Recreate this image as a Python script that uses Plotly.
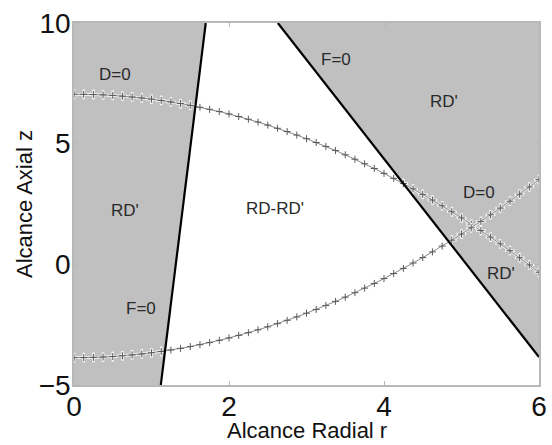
import plotly.graph_objects as go

# ---- data ----
r_vals = [0.000, 0.125, 0.250, 0.375, 0.500, 0.625, 0.750, 0.875, 1.000, 1.125,
          1.250, 1.375, 1.500, 1.625, 1.750, 1.875, 2.000, 2.125, 2.250, 2.375,
          2.500, 2.625, 2.750, 2.875, 3.000, 3.125, 3.250, 3.375, 3.500, 3.625,
          3.750, 3.875, 4.000, 4.125, 4.250, 4.375, 4.500, 4.625, 4.750, 4.875,
          5.000, 5.125, 5.250, 5.375, 5.500, 5.625, 5.750, 5.875, 6.000]

z_upper = [7.050, 7.047, 7.037, 7.021, 6.999, 6.970, 6.935, 6.893, 6.845, 6.791,
           6.730, 6.662, 6.589, 6.509, 6.422, 6.329, 6.230, 6.124, 6.012, 5.894,
           5.769, 5.637, 5.500, 5.356, 5.205, 5.048, 4.885, 4.715, 4.539, 4.356,
           4.167, 3.972, 3.770, 3.562, 3.347, 3.126, 2.899, 2.665, 2.425, 2.178,
           1.925, 1.666, 1.400, 1.127, 0.849, 0.564, 0.272, -0.026, -0.330]

z_lower = [-3.870, -3.867, -3.857, -3.841, -3.819, -3.790, -3.755, -3.713, -3.665, -3.611,
           -3.550, -3.482, -3.409, -3.329, -3.242, -3.149, -3.050, -2.944, -2.832, -2.714,
           -2.589, -2.457, -2.320, -2.176, -2.025, -1.868, -1.705, -1.535, -1.359, -1.176,
           -0.987, -0.792, -0.590, -0.382, -0.167, 0.054, 0.281, 0.515, 0.755, 1.002,
           1.255, 1.514, 1.780, 2.053, 2.331, 2.616, 2.908, 3.206, 3.510]

# F=0 lines (r, z) endpoints
f_left_r = [1.12, 1.70]
f_left_z = [-5.0, 10.0]
f_right_r = [2.63, 6.00]
f_right_z = [10.0, -3.84]

# region labels
label_text = ["D=0", "RD'", "F=0", "RD-RD'", "F=0", "RD'", "D=0", "RD'"]
label_r = [0.53, 0.66, 0.87, 2.59, 3.38, 4.77, 5.23, 5.51]
label_z = [7.85, 2.25, -1.84, 2.33, 8.47, 6.74, 2.97, -0.39]

x_ticks = [0, 2, 4, 6]
y_ticks = [-5, 0, 5, 10]
x_range = [0, 6]
y_range = [-5, 10]

GRAY = "#c0c0c0"
FONT = "Liberation Sans, Arial, sans-serif"

fig = go.Figure()

# gray region on the left (between r=0 and left F=0 line)
fig.add_trace(go.Scatter(
    x=[x_range[0], f_left_r[0], f_left_r[1], x_range[0]],
    y=[y_range[0], f_left_z[0], f_left_z[1], y_range[1]],
    fill="toself", fillcolor=GRAY, mode="none", hoverinfo="skip"))

# gray region on the right (right of the right F=0 line)
fig.add_trace(go.Scatter(
    x=[f_right_r[0], x_range[1], f_right_r[1]],
    y=[f_right_z[0], y_range[1], f_right_z[1]],
    fill="toself", fillcolor=GRAY, mode="none", hoverinfo="skip"))


def in_gray(r, z):
    rl = f_left_r[0] + (z - f_left_z[0]) / (f_left_z[1] - f_left_z[0]) * (f_left_r[1] - f_left_r[0])
    if r <= rl:
        return True
    zr = f_right_z[0] + (r - f_right_r[0]) / (f_right_r[1] - f_right_r[0]) * (f_right_z[1] - f_right_z[0])
    return z >= zr


for zs in (z_upper, z_lower):
    # light halo where the curve crosses the gray regions
    hx = [r if in_gray(r, z) else None for r, z in zip(r_vals, zs)]
    hy = [z if in_gray(r, z) else None for r, z in zip(r_vals, zs)]
    fig.add_trace(go.Scatter(
        x=hx, y=hy, mode="lines+markers",
        line=dict(color="rgba(240,240,240,0.85)", width=2.5),
        marker=dict(symbol="cross-thin", size=7,
                    line=dict(color="rgba(250,250,250,0.9)", width=2.5)),
        connectgaps=False, hoverinfo="skip"))
    fig.add_trace(go.Scatter(
        x=r_vals, y=zs, mode="lines+markers",
        line=dict(color="#8a8a8a", width=1),
        marker=dict(symbol="cross-thin", size=5,
                    line=dict(color="#5a5a5a", width=1)),
        hoverinfo="skip"))

# F=0 lines
fig.add_trace(go.Scatter(x=f_left_r, y=f_left_z, mode="lines",
                         line=dict(color="#000000", width=2.2), hoverinfo="skip"))
fig.add_trace(go.Scatter(x=f_right_r, y=f_right_z, mode="lines",
                         line=dict(color="#000000", width=2.2), hoverinfo="skip"))

for t, x, y in zip(label_text, label_r, label_z):
    fig.add_annotation(x=x, y=y, text=t, showarrow=False,
                       font=dict(family=FONT, size=17, color="#2a2a2a"))

# axis titles
fig.add_annotation(xref="paper", yref="paper", x=0.5, y=0, yshift=-45,
                   text="Alcance Radial r", showarrow=False,
                   xanchor="center", yanchor="middle",
                   font=dict(family=FONT, size=22, color="#111111"))
fig.add_annotation(xref="paper", yref="paper", x=0, y=0.5, xshift=-50,
                   text="Alcance Axial z", showarrow=False, textangle=-90,
                   xanchor="center", yanchor="middle",
                   font=dict(family=FONT, size=22, color="#111111"))

axis_common = dict(showgrid=False, zeroline=False, showline=True, mirror="ticks",
                   linecolor="#b8b8b8", linewidth=1.5, ticks="inside", ticklen=4,
                   tickcolor="#b8b8b8", automargin=False,
                   tickfont=dict(family=FONT, size=28, color="#111111"))

fig.update_xaxes(range=x_range, tickvals=x_ticks, ticklabelstandoff=-4, **axis_common)
fig.update_yaxes(range=y_range, tickvals=y_ticks, ticklabelstandoff=-4, **axis_common)

fig.update_layout(
    width=552, height=445,
    margin=dict(l=74, r=13, t=23, b=60),
    plot_bgcolor="white", paper_bgcolor="white",
    showlegend=False,
)

# remove the default 8px page margin so the figure fills the window exactly
fig.write_html("out.html",
               config={"displayModeBar": False},
               post_script="document.body.style.margin='0';document.body.style.overflow='hidden';")
